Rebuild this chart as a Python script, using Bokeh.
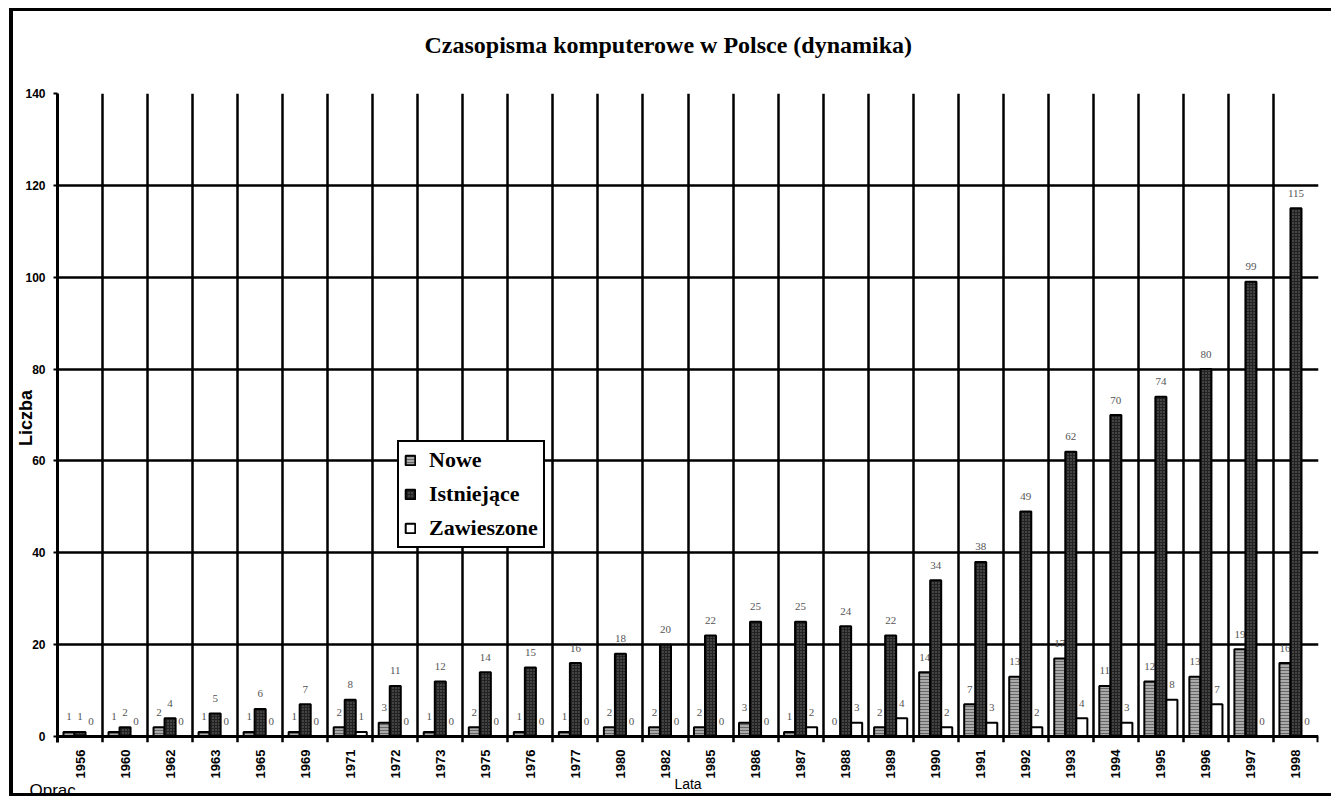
import math
from bokeh.plotting import figure
from bokeh.models import Range1d, FixedTicker, Span, Legend, LegendItem, Label
from bokeh.core.properties import value
from bokeh.embed import file_html
from bokeh.resources import INLINE

# ---- data ----
years = ["1956", "1960", "1962", "1963", "1965", "1969", "1971", "1972", "1973", "1975",
         "1976", "1977", "1980", "1982", "1985", "1986", "1987", "1988", "1989", "1990",
         "1991", "1992", "1993", "1994", "1995", "1996", "1997", "1998"]
nowe = [1, 1, 2, 1, 1, 1, 2, 3, 1, 2, 1, 1, 2, 2, 2, 3, 1, 0, 2, 14, 7, 13, 17, 11, 12, 13, 19, 16]
istniejace = [1, 2, 4, 5, 6, 7, 8, 11, 12, 14, 15, 16, 18, 20, 22, 25, 25, 24, 22, 34, 38, 49, 62, 70, 74, 80, 99, 115]
zawieszone = [0, 0, 0, 0, 0, 0, 1, 0, 0, 0, 0, 0, 0, 0, 0, 0, 2, 3, 4, 2, 3, 2, 4, 3, 8, 7, 0, 0]
series_names = ["Nowe", "Istniejące", "Zawieszone"]
y_ticks = [0, 20, 40, 60, 80, 100, 120, 140]
grid_y = [20, 40, 60, 80, 100, 120]
title_text = "Czasopisma komputerowe w Polsce (dynamika)"
y_label = "Liczba"
x_label = "Lata"
source_note = "Oprac"

n = len(years)
centers = [i + 0.5 for i in range(n)]
bw = 0.245
x_n = [c - bw for c in centers]
x_z = [c + bw for c in centers]
y_lo = -1.306
y_hi = 140

W, H = 1322, 788
p = figure(width=W, height=H, output_backend="svg", toolbar_location=None,
           x_range=Range1d(0, n), y_range=Range1d(y_lo, y_hi),
           min_border_left=42, min_border_right=17, min_border_top=82, min_border_bottom=57)
p.outline_line_color = None
p.background_fill_color = "white"
p.border_fill_color = "white"
p.styles = {"margin-left": "9px", "margin-top": "8px",
            "border-left": "4px solid black", "border-top": "3px solid black",
            "border-bottom": "3px solid black"}

# source note: sits in the upper side panel, drawn down at the bottom-left corner
p.add_layout(Label(x=-28, y=-687, x_units="screen", y_units="screen", text=source_note,
                   text_align="left", text_baseline="top",
                   text_font="Liberation Sans", text_font_size="17px",
                   text_color="black"), "above")

# title
p.title.text = title_text
p.title.align = "left"
p.title.offset = 367
p.title.standoff = 34
p.title.text_font = "Liberation Serif"
p.title.text_font_style = "bold"
p.title.text_font_size = "24px"
p.title.text_color = "black"

# y axis
p.yaxis.ticker = FixedTicker(ticks=y_ticks)
p.yaxis.axis_line_width = 3
p.yaxis.axis_line_color = "black"
p.yaxis.major_tick_out = 4
p.yaxis.major_tick_in = 0
p.yaxis.major_tick_line_width = 2
p.yaxis.minor_tick_line_color = None
p.yaxis.major_label_standoff = 8
p.yaxis.major_label_text_font = "Liberation Sans"
p.yaxis.major_label_text_font_style = "bold"
p.yaxis.major_label_text_font_size = "12px"
p.yaxis.major_label_text_color = "black"
p.yaxis.axis_label = y_label
p.yaxis.axis_label_standoff = -14
p.yaxis.axis_label_text_font = "Liberation Sans"
p.yaxis.axis_label_text_font_style = "bold"
p.yaxis.axis_label_text_font_size = "18px"
p.yaxis.axis_label_text_color = "black"

# x axis (labels only)
p.xaxis.ticker = FixedTicker(ticks=centers)
p.xaxis.major_label_overrides = {c: y for c, y in zip(centers, years)}
p.xaxis.axis_line_color = None
p.xaxis.major_tick_line_color = None
p.xaxis.minor_tick_line_color = None
p.xaxis.major_label_orientation = math.pi / 2
p.xaxis.major_label_standoff = 1
p.xaxis.major_label_text_font = "Liberation Sans"
p.xaxis.major_label_text_font_style = "bold"
p.xaxis.major_label_text_font_size = "13px"
p.xaxis.major_label_text_color = "black"
p.xaxis.axis_label = x_label
p.xaxis.axis_label_standoff = -5
p.xaxis.axis_label_text_font = "Liberation Sans"
p.xaxis.axis_label_text_font_style = "normal"
p.xaxis.axis_label_text_font_size = "14px"
p.xaxis.axis_label_text_color = "black"

# grids
p.xgrid.ticker = FixedTicker(ticks=list(range(1, n)))
p.xgrid.grid_line_color = "black"
p.xgrid.grid_line_width = 2.5
p.ygrid.ticker = FixedTicker(ticks=grid_y)
p.ygrid.grid_line_color = "black"
p.ygrid.grid_line_width = 2.5

# value labels (drawn before bars so bars overlap them)
lab_font = value("Liberation Serif")
for xs, vals in ((x_n, nowe), (centers, istniejace), (x_z, zawieszone)):
    p.text(x=xs, y=vals, text=[str(v) for v in vals], text_font=lab_font,
           text_font_size="11px", text_color="#555555", text_align="center",
           text_baseline="middle", y_offset=-15)

# bars
r1 = p.vbar(x=x_n, top=nowe, bottom=0, width=bw, fill_color="#aaaaaa",
            hatch_pattern="horizontal_line", hatch_color="#666666", hatch_scale=3,
            hatch_weight=1, line_color="black", line_width=2)
r2 = p.vbar(x=centers, top=istniejace, bottom=0, width=bw, fill_color="#222222",
            hatch_pattern="dot", hatch_color="#777777", hatch_scale=3,
            hatch_weight=1, line_color="black", line_width=2)
r3 = p.vbar(x=x_z, top=zawieszone, bottom=0, width=bw, fill_color="white",
            line_color="black", line_width=2)

# x axis line at zero and closing tick
p.add_layout(Span(location=0, dimension="width", line_color="black", line_width=3))
p.segment(x0=[n], y0=[0], x1=[n], y1=[y_lo], line_color="black", line_width=4)

legend = Legend(items=[LegendItem(label=series_names[0], renderers=[r1]),
                       LegendItem(label=series_names[1], renderers=[r2]),
                       LegendItem(label=series_names[2], renderers=[r3])],
                location=(340, 194), orientation="vertical",
                label_text_font="Liberation Serif", label_text_font_style="bold",
                label_text_font_size="22px", label_text_color="black",
                glyph_width=12, glyph_height=12, label_height=22, spacing=8,
                padding=5, margin=0, label_standoff=13,
                border_line_color="black", border_line_width=2, border_line_alpha=1,
                background_fill_color="white", background_fill_alpha=1)
p.add_layout(legend)

open("out.html", "w").write(file_html(p, INLINE))
